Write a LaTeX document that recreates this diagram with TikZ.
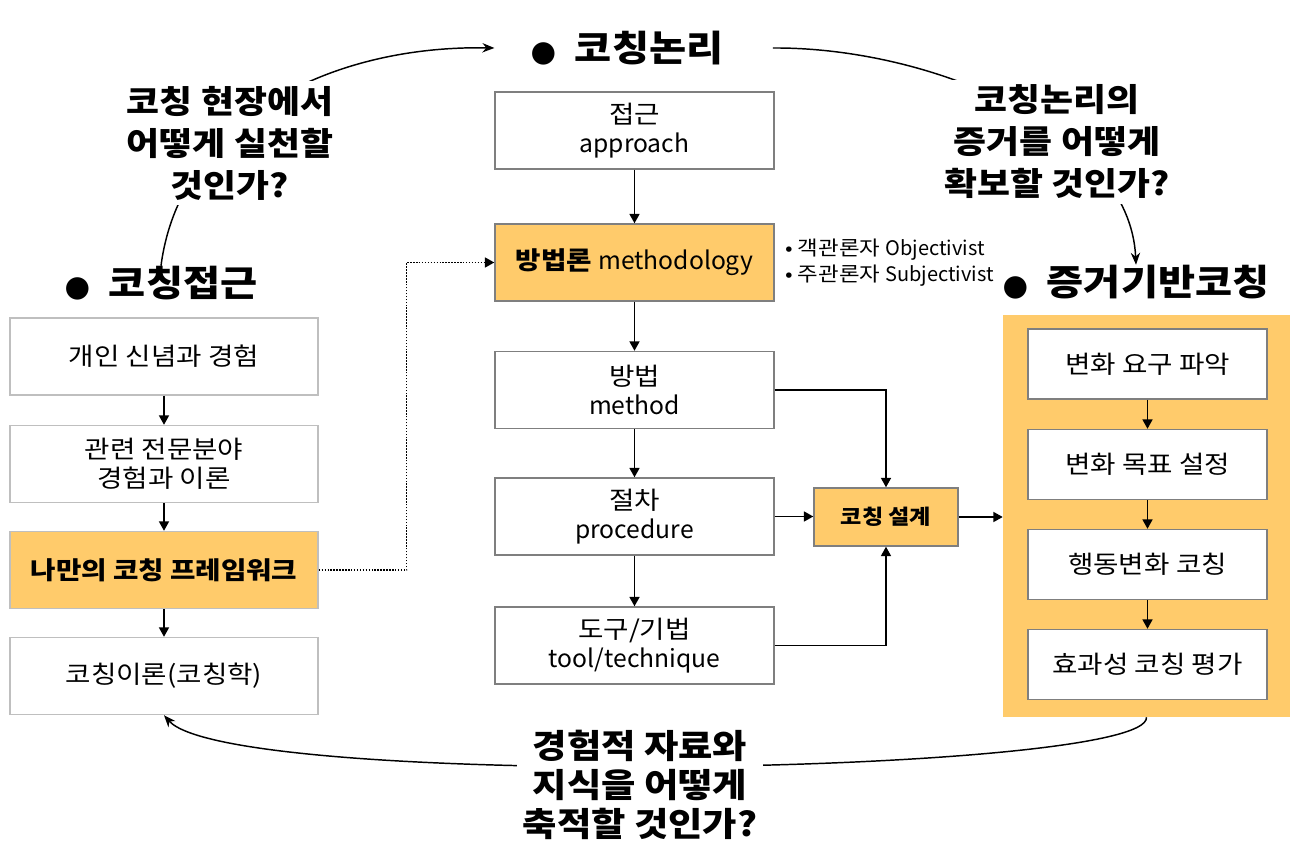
\documentclass[tikz,border=0pt]{standalone}
\usepackage{fontspec}
\setmainfont{Noto Sans CJK KR}[FakeStretch=1.12]
\newfontfamily\latf{Noto Sans CJK KR}
\newfontfamily\symfont{DejaVu Sans}
\newcommand{\lat}[1]{{\latf #1}}
\usetikzlibrary{arrows.meta,calc}
\definecolor{ybox}{HTML}{FFCB6B}
\definecolor{lgray}{HTML}{BFBFBF}
\definecolor{dgray}{HTML}{7F7F7F}
\begin{document}
\begin{tikzpicture}[x=0.75pt,y=-0.75pt,
  basebox/.style={line width=1.1pt,fill=white,align=center,inner sep=0pt,
    font=\fontsize{18.5pt}{21.5pt}\selectfont},
  lbox/.style={basebox,draw=lgray,minimum width=231pt,minimum height=57.75pt},
  cbox/.style={basebox,draw=dgray,minimum width=209.25pt,minimum height=57.75pt},
  rbox/.style={basebox,draw=dgray,minimum width=179.25pt,minimum height=52.5pt},
  ttl/.style={font=\fontsize{27pt}{30pt}\selectfont\bfseries,inner sep=0pt},
  qst/.style={font=\fontsize{24pt}{31.5pt}\selectfont\bfseries,align=center,fill=white,inner sep=4pt},
  arr/.style={-{Triangle[length=7pt,width=7.5pt]},line width=1.1pt},
  carr/.style={-{Stealth[length=9pt,width=7pt]},line width=1.1pt},
  dotarr/.style={-{Triangle[length=7pt,width=7.5pt]},line width=1.1pt,dash pattern=on 1.1pt off 1.1pt},
]
\useasboundingbox (0,0) rectangle (1304,863);
\newcommand{\bul}{{\symfont\fontsize{22pt}{22pt}\selectfont ●}\hspace{14pt}}

% titles
\node[ttl] (t1) at (161,283) {\bul 코칭접근};
\node[ttl] (t2) at (627,48) {\bul 코칭논리};
\node[ttl] (t3) at (1136,282) {\bul 증거기반코칭};

% left column
\node[lbox] (l1) at (164,356.5) {개인 신념과 경험};
\node[lbox] (l2) at (164,464) {관련 전문분야\\경험과 이론};
\node[lbox,fill=ybox] (l3) at (164,570) {\bfseries 나만의 코칭 프레임워크};
\node[lbox] (l4) at (164,676) {코칭이론(코칭학)};
\draw[arr] (l1) -- (l2);
\draw[arr] (l2) -- (l3);
\draw[arr] (l3) -- (l4);

% center column
\node[cbox] (c1) at (634.5,130.5) {접근\\\lat{approach}};
\node[cbox,fill=ybox] (c2) at (634.5,262.5) {{\bfseries 방법론} \lat{methodology}};
\node[cbox] (c3) at (634.5,390) {방법\\\lat{method}};
\node[cbox] (c4) at (634.5,516.5) {절차\\\lat{procedure}};
\node[cbox] (c5) at (634.5,645.5) {도구/기법\\\lat{tool/technique}};
\node[basebox,draw=dgray,fill=ybox,minimum width=108pt,minimum height=43.5pt,
  font=\fontsize{15.5pt}{18pt}\selectfont\bfseries] (cd) at (886,517) {코칭 설계};
\draw[arr] (c1) -- (c2);
\draw[arr] (c2) -- (c3);
\draw[arr] (c3) -- (c4);
\draw[arr] (c4) -- (c5);
\draw[arr] (c3.east) -| (cd.north);
\draw[arr] (c4.east) -- (c4.east -| cd.west);
\draw[arr] (c5.east) -| (cd.south);

\node[anchor=west,align=left,inner sep=0pt,font=\fontsize{15pt}{19.5pt}\selectfont] (notes) at (785,263)
  {• 객관론자 \lat{Objectivist}\\• 주관론자 \lat{Subjectivist}};

% dotted link
\draw[dotarr] (l3.east) -- ++(88,0) |- (c2.west);

% right block
\node[fill=ybox,minimum width=215.25pt,minimum height=301.5pt,inner sep=0pt] (big) at (1146.5,516) {};
\node[rbox] (r1) at (1147.5,364) {변화 요구 파악};
\node[rbox] (r2) at (1147.5,464.5) {변화 목표 설정};
\node[rbox] (r3) at (1147.5,564.5) {행동변화 코칭};
\node[rbox] (r4) at (1147.5,664.5) {효과성 코칭 평가};
\draw[arr] (r1) -- (r2);
\draw[arr] (r2) -- (r3);
\draw[arr] (r3) -- (r4);
\draw[arr] (cd.east) -- (cd.east -| big.west);

% curved arrows
\draw[carr] (t1.north) .. controls (180,120) and (330,45) .. ([xshift=-27pt]t2.west);
\draw[carr] ([xshift=37pt]t2.east) .. controls (930,47) and (1130,130) .. (t3.north);
\draw[carr] (big.south) .. controls (1150,775) and (230,790) .. (l4.south);

% questions
\node[qst] (q1) at (230,143) {코칭 현장에서\\어떻게 실천할\\것인가?};
\node[qst] (q2) at (1057,142) {코칭논리의\\증거를 어떻게\\확보할 것인가?};
\node[qst,font=\fontsize{25pt}{29.5pt}\selectfont\bfseries] (q3) at (640,785) {경험적 자료와\\지식을 어떻게\\축적할 것인가?};
\end{tikzpicture}
\end{document}
